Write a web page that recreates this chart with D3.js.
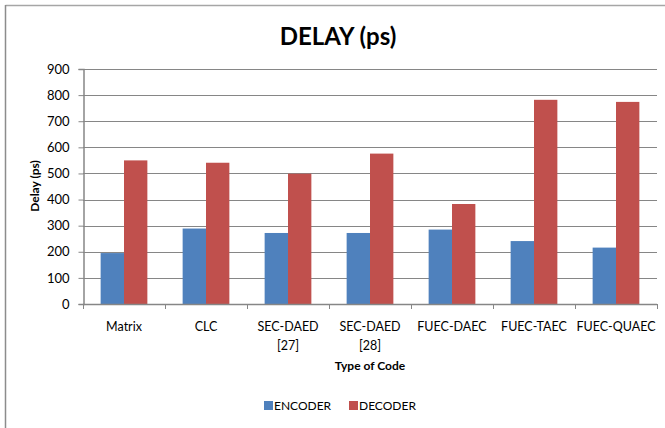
<!DOCTYPE html>
<html>
<head>
<meta charset="utf-8">
<script src="https://cdn.jsdelivr.net/npm/d3@7"></script>
<style>
  html, body { margin: 0; padding: 0; background: #fff; }
  svg { display: block; }
  text { font-family: Lato, "Open Sans", "Liberation Sans", sans-serif; fill: #000; }
</style>
</head>
<body>
<svg id="chart" width="665" height="428"></svg>
<script>
// Delay per code type, in picoseconds
const categories = [["Matrix"], ["CLC"], ["SEC-DAED", "[27]"], ["SEC-DAED", "[28]"], ["FUEC-DAEC"], ["FUEC-TAEC"], ["FUEC-QUAEC"]];
const seriesNames = ["ENCODER", "DECODER"];
const encoder = [195, 289, 272, 272, 285, 241, 216];
const decoder = [550, 541, 499, 576, 383, 782, 774];
const yTicks = [0, 100, 200, 300, 400, 500, 600, 700, 800, 900];

const colors = ["#4F81BD", "#C0504D"];
const svg = d3.select("#chart");

// Frame lines (top and left)
svg.append("line").attr("x1", 5.5).attr("x2", 665).attr("y1", 5.5).attr("y2", 5.5)
  .attr("stroke", "#a6a6a6").attr("stroke-width", 1.5);
svg.append("line").attr("x1", 5.5).attr("x2", 5.5).attr("y1", 5).attr("y2", 428)
  .attr("stroke", "#8c8c8c").attr("stroke-width", 1.5);

const plot = { left: 83, right: 657, top: 69, bottom: 304 };
const keys = categories.map((c, i) => i);

const x = d3.scaleBand().domain(keys).range([plot.left, plot.right]).paddingInner(0).paddingOuter(0);
const xInner = d3.scaleBand().domain([0, 1]).range([0, x.bandwidth()]).paddingOuter(0.755).paddingInner(0);
const y = d3.scaleLinear().domain([0, 900]).range([plot.bottom, plot.top]);

// Gridlines
svg.append("g").selectAll("line").data(yTicks.filter(t => t > 0)).join("line")
  .attr("x1", plot.left).attr("x2", plot.right)
  .attr("y1", d => Math.round(y(d)) + 0.5).attr("y2", d => Math.round(y(d)) + 0.5)
  .attr("stroke", "#868686").attr("stroke-width", 1);

// Bars
const groups = svg.append("g").selectAll("g").data(keys).join("g")
  .attr("transform", i => `translate(${x(i)},0)`);
const vals = [encoder, decoder];
groups.selectAll("rect").data(i => [0, 1].map(s => ({ s, v: vals[s][i] }))).join("rect")
  .attr("x", d => xInner(d.s))
  .attr("width", xInner.bandwidth())
  .attr("y", d => y(d.v))
  .attr("height", d => y(0) - y(d.v))
  .attr("fill", d => colors[d.s]);

// Y axis
const yAxis = svg.append("g").attr("transform", `translate(${plot.left + 0.5},0)`)
  .call(d3.axisLeft(y).tickValues(yTicks).tickSize(5).tickPadding(9).tickFormat(d3.format("d")));
yAxis.select(".domain").attr("stroke", "#868686").attr("stroke-width", 1.5);
yAxis.selectAll(".tick line").attr("stroke", "#868686");
yAxis.selectAll(".tick text").attr("font-size", 13).attr("font-family", "Lato, sans-serif").attr("fill", "#000");

// X axis with boundary ticks
const xAxisG = svg.append("g");
xAxisG.append("line").attr("x1", plot.left).attr("x2", plot.right)
  .attr("y1", plot.bottom + 0.5).attr("y2", plot.bottom + 0.5)
  .attr("stroke", "#868686").attr("stroke-width", 1.5);
const bounds = keys.map(i => x(i)).concat([plot.right]);
xAxisG.selectAll("line.tk").data(bounds).join("line").attr("class", "tk")
  .attr("x1", d => Math.round(d) + 0.5).attr("x2", d => Math.round(d) + 0.5)
  .attr("y1", plot.bottom).attr("y2", plot.bottom + 5)
  .attr("stroke", "#868686");
xAxisG.selectAll("text").data(keys).join("text")
  .attr("x", i => x(i) + x.bandwidth() / 2)
  .attr("y", 331)
  .attr("text-anchor", "middle")
  .attr("font-size", 12.5)
  .selectAll("tspan").data(i => categories[i]).join("tspan")
  .attr("x", function() { return d3.select(this.parentNode).attr("x"); })
  .attr("dy", (d, j) => j === 0 ? 0 : 19)
  .text(d => d);

// Title
svg.append("text").attr("x", 338).attr("y", 45).attr("text-anchor", "middle")
  .attr("font-size", 24).attr("font-weight", "bold").text("DELAY (ps)");

// Axis titles
svg.append("text").attr("transform", "translate(39,186) rotate(-90)")
  .attr("text-anchor", "middle").attr("font-size", 12).attr("font-weight", "bold").text("Delay (ps)");
svg.append("text").attr("x", 370).attr("y", 370).attr("text-anchor", "middle")
  .attr("font-size", 12).attr("font-weight", "bold").text("Type of Code");

// Legend
const legend = svg.append("g");
const legendX = [264, 349];
seriesNames.forEach((name, i) => {
  legend.append("rect").attr("x", legendX[i]).attr("y", 401).attr("width", 9).attr("height", 9).attr("fill", colors[i]);
  legend.append("text").attr("x", legendX[i] + 10).attr("y", 410).attr("font-size", 12).text(name);
});
</script>
</body>
</html>
